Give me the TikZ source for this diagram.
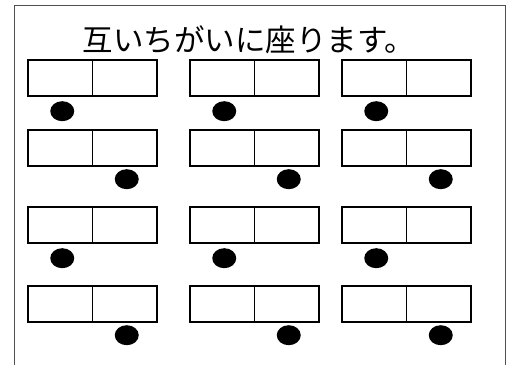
\documentclass[tikz,border=0pt]{standalone}
\usepackage{fontspec}
\newfontfamily\jpfont{Noto Sans CJK JP}
\usetikzlibrary{positioning,shapes.geometric}
\definecolor{edge}{RGB}{80,80,80}

\begin{document}
\begin{tikzpicture}[x=1pt,y=-1pt,
  seat/.style={draw,line width=1.7pt,minimum width=64.5pt,minimum height=36pt,inner sep=0pt,outer sep=0pt},
  pupil/.style={ellipse,fill=black,minimum width=24pt,minimum height=20pt,inner sep=0pt}]
  \useasboundingbox (0,0) rectangle (514,365);
  \draw[edge,line width=1pt] (14,365) -- (14,5) -- (505,5) -- (505,365);
  \node[font=\jpfont\fontsize{30.5}{31}\selectfont] (title) at (249,40) {互いちがいに座ります。};
  % desks: two seats side by side
  \foreach \r/\y in {1/78,2/148,3/225,4/304}
    \foreach \c/\x in {1/28,2/190,3/342} {
      \node[seat,anchor=west] (l\r\c) at (\x,\y) {};
      \node[seat,right=0pt of l\r\c] (r\r\c) {};
    }
  % pupils sit below the left seat, then the right one
  \foreach \r in {1,3}
    \foreach \c in {1,2,3} \node[pupil,below=5pt of l\r\c,xshift=2pt] (p\r\c) {};
  \foreach \r in {2,4}
    \foreach \c in {1,2,3} \node[pupil,below=3pt of r\r\c,xshift=2pt] (p\r\c) {};
\end{tikzpicture}
\end{document}
